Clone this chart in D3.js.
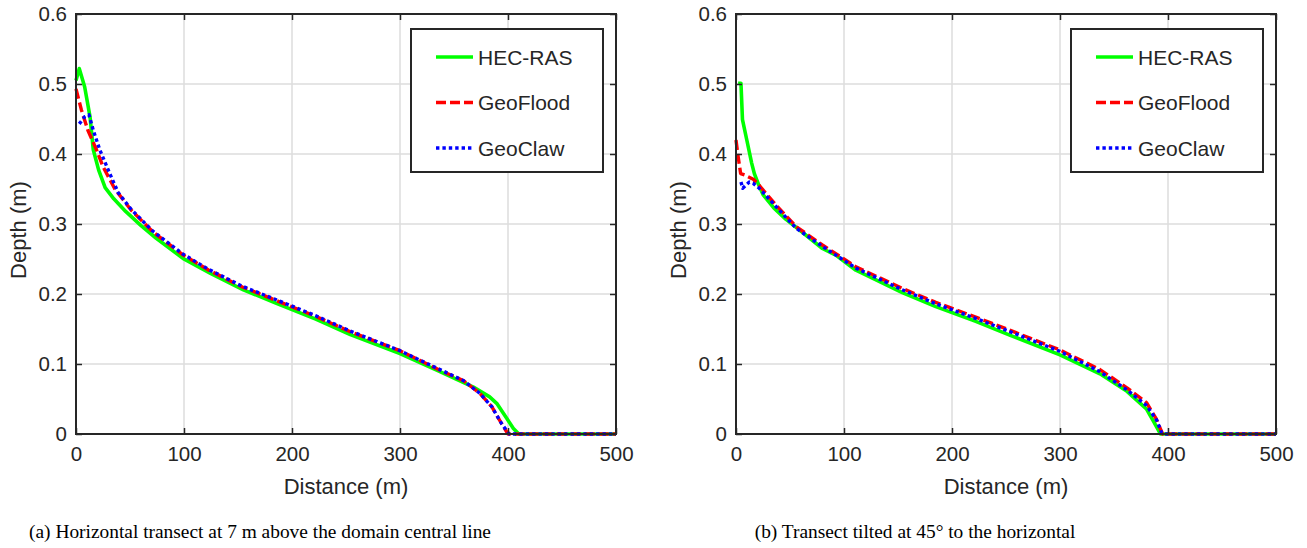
<!DOCTYPE html>
<html lang="en">
<head>
<meta charset="UTF-8">
<script src="https://d3js.org/d3.v7.min.js"></script>
<title>Depth transects</title>
<style>
  body { margin:0; background:#fff; }
  svg text { font-family: "Liberation Sans", Arial, Helvetica, sans-serif; fill:#262626; }
  .caption { font-family: "Liberation Serif", "Times New Roman", serif; fill:#000; }
</style>
</head>
<body>
<svg id="chart" width="1307" height="548"></svg>
<script>
// data: [distance (m), depth (m)]
const hecRasA = [[0,0.505],[3,0.522],[8,0.496],[13,0.453],[16,0.406],[21,0.377],[27,0.352],[35,0.336],[46,0.318],[60,0.298],[74,0.28],[99,0.251],[125,0.229],[155,0.206],[185,0.187],[222,0.164],[254,0.142],[300,0.115],[337,0.089],[358,0.074],[368,0.067],[383,0.053],[390,0.043],[396,0.029],[405,0.008],[410,0],[500,0]];
const geoFloodA = [[0,0.493],[5,0.463],[11,0.434],[19,0.406],[25,0.382],[36,0.35],[51,0.32],[71,0.289],[99,0.256],[123,0.234],[154,0.21],[185,0.191],[222,0.168],[254,0.146],[300,0.119],[337,0.091],[359,0.076],[374,0.058],[385,0.039],[394,0.015],[400,0],[500,0]];
const geoClawA = [[3,0.443],[8,0.453],[12,0.456],[16,0.434],[22,0.406],[31,0.373],[39,0.345],[51,0.321],[71,0.29],[99,0.257],[123,0.235],[154,0.211],[185,0.192],[222,0.169],[254,0.147],[300,0.119],[337,0.092],[359,0.076],[374,0.058],[385,0.039],[394,0.015],[401,0],[500,0]];

const hecRasB = [[2,0.501],[4.6,0.501],[6,0.449],[10,0.42],[14.5,0.387],[17,0.372],[21,0.356],[25,0.342],[35,0.323],[46,0.307],[60,0.29],[80,0.265],[93,0.255],[111,0.234],[154,0.202],[185,0.182],[222,0.161],[254,0.141],[300,0.113],[337,0.086],[362,0.061],[380,0.036],[387,0.017],[393,0],[500,0]];
const geoFloodB = [[0,0.42],[2,0.396],[4.3,0.372],[8,0.37],[16,0.364],[21,0.356],[37,0.327],[56,0.296],[80,0.27],[111,0.239],[154,0.208],[185,0.188],[222,0.167],[254,0.148],[300,0.12],[337,0.092],[362,0.066],[380,0.045],[389,0.022],[395,0],[500,0]];
const geoClawB = [[4.6,0.36],[6.2,0.351],[12.3,0.36],[16,0.358],[21.6,0.351],[37,0.325],[55.6,0.294],[80,0.268],[111,0.237],[154,0.206],[185,0.186],[222,0.165],[254,0.146],[300,0.118],[337,0.089],[362,0.063],[380,0.041],[389.5,0.02],[394,0.002],[396,0],[500,0]];

const seriesNames = ["HEC-RAS","GeoFlood","GeoClaw"];
const xTicks = [0,100,200,300,400,500];
const yTicks = [0,0.1,0.2,0.3,0.4,0.5,0.6];
const captions = ["(a) Horizontal transect at 7 m above the domain central line",
                  "(b) Transect tilted at 45\u00B0 to the horizontal"];

const styles = [
  {color:"#00ff00", width:3.6, dash:null},
  {color:"#ff0000", width:3.4, dash:"10,4"},
  {color:"#0000ff", width:3.4, dash:"3.4,3"}
];

const svg = d3.select("svg#chart");
const panels = [
  {left:76, data:[hecRasA, geoFloodA, geoClawA], capX:260},
  {left:736, data:[hecRasB, geoFloodB, geoClawB], capX:915}
];
const plotW = 540, plotTop = 14, plotBottom = 434;

panels.forEach((p, i) => {
  const x = d3.scaleLinear().domain([0,500]).range([p.left, p.left+plotW]);
  const y = d3.scaleLinear().domain([0,0.6]).range([plotBottom, plotTop]);
  const g = svg.append("g");

  // grid
  g.append("g").selectAll("line").data(xTicks.slice(1,-1)).join("line")
    .attr("x1", d=>x(d)).attr("x2", d=>x(d)).attr("y1", plotTop).attr("y2", plotBottom)
    .attr("stroke", "#dcdcdc").attr("stroke-width", 1.5);
  g.append("g").selectAll("line").data(yTicks.slice(1,-1)).join("line")
    .attr("x1", p.left).attr("x2", p.left+plotW).attr("y1", d=>y(d)).attr("y2", d=>y(d))
    .attr("stroke", "#dcdcdc").attr("stroke-width", 1.5);

  // lines
  const line = d3.line().x(d=>x(d[0])).y(d=>y(d[1]));
  p.data.forEach((ser, k) => {
    g.append("path").datum(ser)
      .attr("fill","none")
      .attr("stroke", styles[k].color)
      .attr("stroke-width", styles[k].width)
      .attr("stroke-dasharray", styles[k].dash)
      .attr("stroke-linejoin","round")
      .attr("d", line);
  });

  // axes
  const fmtY = d => d === 0 ? "0" : d3.format(".1f")(d);
  const bx = g.append("g").attr("transform", `translate(0,${plotBottom})`)
    .call(d3.axisBottom(x).tickValues(xTicks).tickSize(-6).tickPadding(12));
  const lx = g.append("g").attr("transform", `translate(${p.left},0)`)
    .call(d3.axisLeft(y).tickValues(yTicks).tickFormat(fmtY).tickSize(-6).tickPadding(9));
  const tx = g.append("g").attr("transform", `translate(0,${plotTop})`)
    .call(d3.axisTop(x).tickValues(xTicks).tickSize(-6).tickFormat(""));
  const rx = g.append("g").attr("transform", `translate(${p.left+plotW},0)`)
    .call(d3.axisRight(y).tickValues(yTicks).tickSize(-6).tickFormat(""));
  [bx, lx, tx, rx].forEach(a => {
    a.select(".domain").remove();
    a.selectAll("line").attr("stroke","#262626").attr("stroke-width",1.5);
    a.selectAll("text").attr("font-size", 20.5).attr("fill","#262626")
      .attr("font-family", '"Liberation Sans", Arial, sans-serif');
  });
  bx.selectAll("text").attr("dy","0.71em");

  g.append("rect").attr("x", p.left).attr("y", plotTop).attr("width", plotW).attr("height", plotBottom-plotTop)
    .attr("fill","none").attr("stroke","#262626").attr("stroke-width",2);

  // axis labels
  g.append("text").attr("x", p.left+plotW/2).attr("y", 494).attr("text-anchor","middle")
    .attr("font-size", 22).text("Distance (m)");
  g.append("text").attr("transform", `translate(${p.left-50},${(plotTop+plotBottom)/2+6}) rotate(-90)`)
    .attr("text-anchor","middle").attr("font-size", 22).text("Depth (m)");

  // legend
  const lg = g.append("g").attr("transform", `translate(${p.left+335},29)`);
  lg.append("rect").attr("width",192).attr("height",143).attr("fill","#fff")
    .attr("stroke","#262626").attr("stroke-width",2);
  seriesNames.forEach((n, k) => {
    const yy = 28 + k*45.5;
    lg.append("line").attr("x1",25).attr("x2",62).attr("y1",yy).attr("y2",yy)
      .attr("stroke", styles[k].color).attr("stroke-width", styles[k].width)
      .attr("stroke-dasharray", styles[k].dash);
    lg.append("text").attr("x",67).attr("y",yy+7.5).attr("font-size",21).attr("fill","#000").text(n);
  });

  // caption
  svg.append("text").attr("class","caption").attr("x", p.capX).attr("y", 538)
    .attr("text-anchor","middle").attr("font-size", 19.4).text(captions[i]);
});
</script>
</body>
</html>
